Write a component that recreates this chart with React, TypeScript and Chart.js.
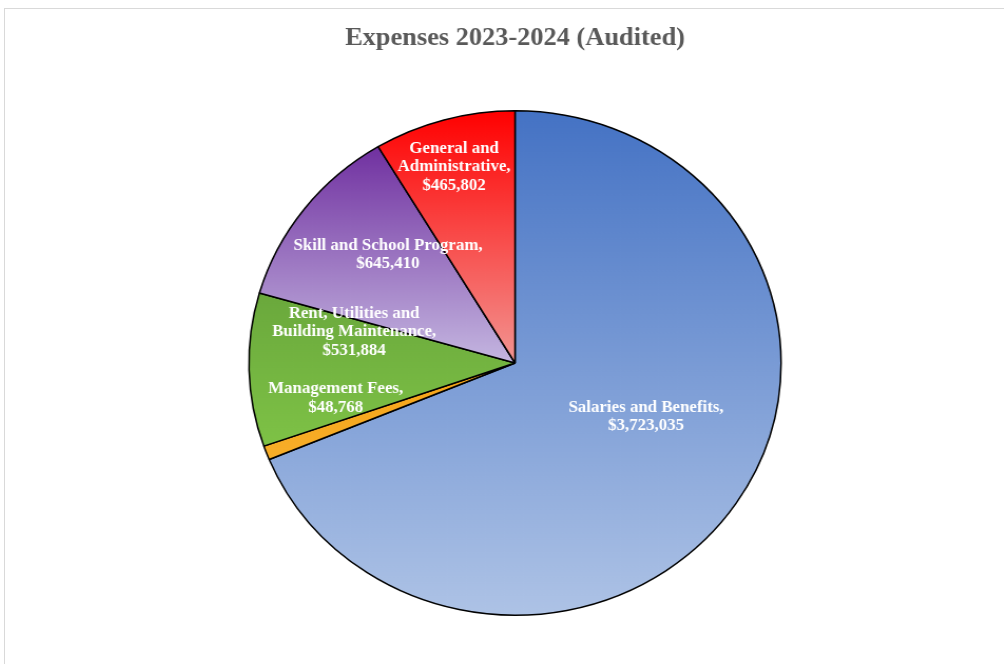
import React, { useEffect, useRef } from "react";
import { Chart, registerables } from "chart.js";

Chart.register(...registerables);

const titleText = "Expenses 2023-2024 (Audited)";
const categories = [
  "Salaries and Benefits",
  "Management Fees",
  "Rent, Utilities and Building Maintenance",
  "Skill and School Program",
  "General and Administrative",
];
const expenseValues = [3723035, 48768, 531884, 645410, 465802];
const labelLines = [
  ["Salaries and Benefits,"],
  ["Management Fees,"],
  ["Rent, Utilities and", "Building Maintenance,"],
  ["Skill and School Program,"],
  ["General and", "Administrative,"],
];
const topColors = ["#4472C4", "#F5A316", "#6AA83C", "#7030A0", "#FF0000"];
const bottomColors = ["#AEC3E6", "#F7AE2A", "#7EC246", "#C4B6E0", "#F29592"];
// label anchor offsets, as fractions of the radius from the pie centre
const labelOffsetX = [0.491, -0.672, -0.603, -0.476, -0.228];
const labelOffsetY = [0.213, 0.14, -0.123, -0.427, -0.775];

const fmt = (v: number) => "$" + v.toLocaleString("en-US");

function geometry(chart: any) {
  const a = chart.chartArea;
  const cx = (a.left + a.right) / 2;
  const cy = (a.top + a.bottom) / 2;
  const r = Math.min(a.right - a.left, a.bottom - a.top) / 2;
  return { cx, cy, r };
}

function sliceGradient(ctx: any) {
  const i = ctx.dataIndex;
  const chart = ctx.chart;
  if (!chart.chartArea || i === undefined) return topColors[i ?? 0];
  const { cy, r } = geometry(chart);
  const total = expenseValues.reduce((s, v) => s + v, 0);
  let start = 0;
  for (let k = 0; k < i; k++) start += (expenseValues[k] / total) * 360;
  const end = start + (expenseValues[i] / total) * 360;
  const ys = [cy];
  const yAt = (deg: number) => cy - r * Math.cos((deg * Math.PI) / 180);
  ys.push(yAt(start), yAt(end));
  if (start <= 0.0001 || end >= 359.999) ys.push(cy - r);
  if (start <= 180 && end >= 180) ys.push(cy + r);
  const y0 = Math.min(...ys);
  const y1 = Math.max(...ys);
  const g = chart.ctx.createLinearGradient(0, y0, 0, y1);
  g.addColorStop(0, topColors[i]);
  g.addColorStop(1, bottomColors[i]);
  return g;
}

const labelPlugin = {
  id: "sliceLabels",
  afterDatasetsDraw(chart: any) {
    const { ctx } = chart;
    const { cx, cy, r } = geometry(chart);
    ctx.save();
    ctx.fillStyle = "#FFFFFF";
    ctx.font = 'bold 16px "Liberation Serif", "Times New Roman", serif';
    ctx.textAlign = "center";
    ctx.textBaseline = "middle";
    const lh = 18.5;
    expenseValues.forEach((v, i) => {
      const lines = [...labelLines[i], fmt(v)];
      const x = cx + labelOffsetX[i] * r;
      const yc = cy + labelOffsetY[i] * r;
      const y0 = yc - ((lines.length - 1) * lh) / 2;
      lines.forEach((t, j) => ctx.fillText(t, x, y0 + j * lh));
    });
    ctx.restore();
  },
};

const CANVAS_W = 967;
const CANVAS_H = 655;
const STRETCH_X = 1020 / 967;

export default function App() {
  const ref = useRef<HTMLCanvasElement>(null);
  useEffect(() => {
    if (!ref.current) return;
    const chart = new Chart(ref.current, {
      type: "pie",
      data: {
        labels: categories,
        datasets: [
          {
            data: expenseValues,
            backgroundColor: sliceGradient as any,
            borderColor: "#000000",
            borderWidth: 1.5,
          },
        ],
      },
      options: {
        responsive: false,
        animation: false,
        devicePixelRatio: 1,
        layout: { padding: { top: 0, bottom: 48, left: 0, right: 0 } },
        plugins: {
          legend: { display: false },
          tooltip: { enabled: false },
          title: {
            display: true,
            text: titleText,
            color: "#595959",
            font: { family: '"Liberation Serif", "Times New Roman", serif', size: 25, weight: "bold" },
            padding: { top: 15, bottom: 56 },
          },
        },
      },
      plugins: [labelPlugin],
    });
    return () => chart.destroy();
  }, []);
  return (
    <div style={{ position: "fixed", left: 0, top: 0, width: 1004, height: 664, overflow: "hidden", background: "#fff" }}>
      <div
        style={{
          position: "absolute",
          left: 4,
          top: 8,
          width: 1030,
          height: 700,
          border: "1px solid #D9D9D9",
          background: "#fff",
        }}
      >
        <div
          style={{
            position: "absolute",
            left: 0,
            top: 0,
            width: CANVAS_W,
            height: CANVAS_H,
            transform: `scaleX(${STRETCH_X})`,
            transformOrigin: "0 0",
          }}
        >
          <canvas
            ref={ref}
            width={CANVAS_W}
            height={CANVAS_H}
            style={{ display: "block", width: CANVAS_W, height: CANVAS_H }}
          />
        </div>
      </div>
    </div>
  );
}
